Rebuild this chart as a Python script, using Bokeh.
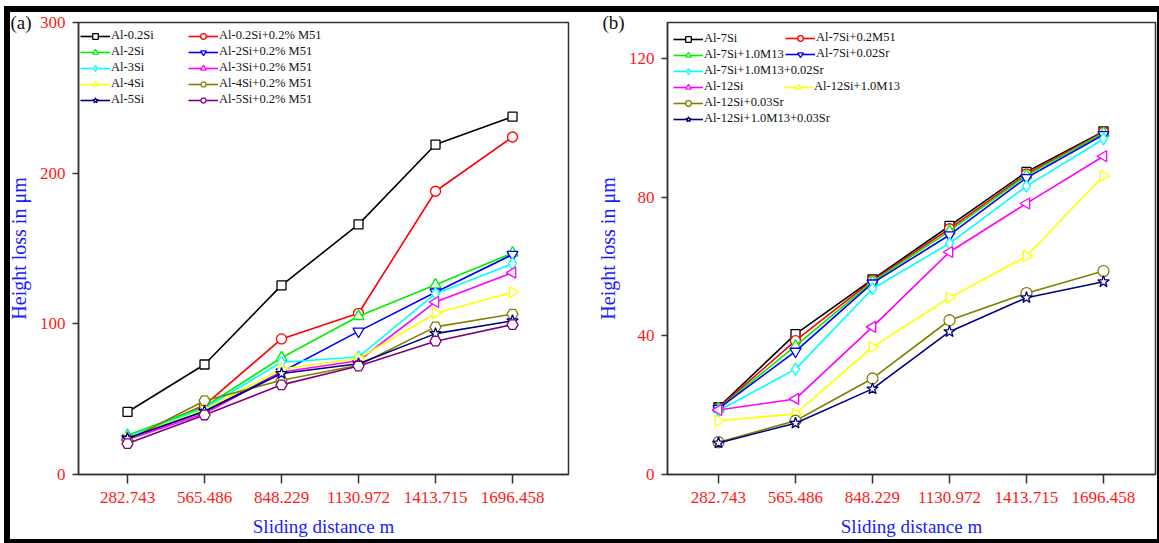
import math
from bokeh.plotting import figure
from bokeh.models import Legend, LegendItem, FixedTicker, Range1d
from bokeh.layouts import row
from bokeh.embed import file_html
from bokeh.resources import INLINE

# ---------------- data ----------------
distance = [282.743, 565.486, 848.229, 1130.972, 1413.715, 1696.458]
tick_labels = ["282.743", "565.486", "848.229", "1130.972", "1413.715", "1696.458"]

# panel (a)
a_names = ["Al-0.2Si", "Al-0.2Si+0.2% M51", "Al-2Si", "Al-2Si+0.2% M51",
           "Al-3Si", "Al-3Si+0.2% M51", "Al-4Si", "Al-4Si+0.2% M51",
           "Al-5Si", "Al-5Si+0.2% M51"]
a_al02si = [41.5, 73, 125.5, 166, 219, 237.5]
a_al02si_m51 = [24, 46, 90, 107, 188, 224]
a_al2si = [26, 45, 77.5, 105, 126, 147]
a_al2si_m51 = [24, 42, 68, 95, 121, 146]
a_al3si = [25, 44, 74.5, 78, 120, 140]
a_al3si_m51 = [23, 40.5, 68, 75.5, 114.5, 134]
a_al4si = [24, 43, 70, 77, 107, 121]
a_al4si_m51 = [22.7, 49, 62.5, 72.5, 98, 106.5]
a_al5si = [24, 42, 67, 73.5, 93.5, 102]
a_al5si_m51 = [20.5, 39.5, 59.5, 72, 88.5, 99.5]
a_values = [a_al02si, a_al02si_m51, a_al2si, a_al2si_m51, a_al3si, a_al3si_m51,
            a_al4si, a_al4si_m51, a_al5si, a_al5si_m51]

# panel (b)
b_names = ["Al-7Si", "Al-7Si+0.2M51", "Al-7Si+1.0M13", "Al-7Si+0.02Sr",
           "Al-7Si+1.0M13+0.02Sr", "Al-12Si", "Al-12Si+1.0M13",
           "Al-12Si+0.03Sr", "Al-12Si+1.0M13+0.03Sr"]
b_al7si = [19.4, 40.5, 56.3, 71.7, 87.3, 99.0]
b_al7si_m51 = [19.2, 38.6, 56.0, 70.9, 86.7, 98.8]
b_al7si_m13 = [19.0, 37.1, 55.6, 70.2, 86.3, 98.5]
b_al7si_sr = [19.0, 35.5, 55.2, 69.1, 85.6, 98.0]
b_al7si_m13_sr = [18.4, 30.4, 53.6, 66.7, 83.2, 96.8]
b_al12si = [18.6, 21.8, 42.6, 64.2, 78.2, 91.8]
b_al12si_m13 = [15.5, 17.5, 36.8, 51.0, 63.0, 86.2]
b_al12si_sr = [9.3, 15.5, 27.7, 44.5, 52.3, 58.7]
b_al12si_m13_sr = [9.1, 14.8, 24.7, 41.2, 51.0, 55.6]
b_values = [b_al7si, b_al7si_m51, b_al7si_m13, b_al7si_sr, b_al7si_m13_sr,
            b_al12si, b_al12si_m13, b_al12si_sr, b_al12si_m13_sr]

# ---------------- styles ----------------
FONT = "Liberation Serif"
TICK_RED = "#ff1a1a"
TITLE_BLUE = "#1a1aff"
AXIS_COL = "#333333"

a_styles = [
    ("#000000", "square", 0, 9),
    ("#ff0000", "circle", 0, 10),
    ("#00ee00", "triangle", 0, 11),
    ("#0000ff", "inverted_triangle", 0, 11),
    ("#00ffff", "diamond", 0, 12),
    ("#ff00ff", "triangle", math.pi / 2, 11),
    ("#ffff00", "triangle", -math.pi / 2, 11),
    ("#808000", "hex", 0, 11),
    ("#000080", "star", 0, 12),
    ("#800080", "hex", 0, 11),
]
b_styles = [
    ("#000000", "square", 0, 9),
    ("#ff0000", "circle", 0, 10),
    ("#00ee00", "triangle", 0, 11),
    ("#0000ff", "inverted_triangle", 0, 11),
    ("#00ffff", "diamond", 0, 12),
    ("#ff00ff", "triangle", math.pi / 2, 11),
    ("#ffff00", "triangle", -math.pi / 2, 11),
    ("#808000", "circle", 0, 11),
    ("#000080", "star", 0, 12),
]


def make_fig(width, xr, yr, yticks, min_left, min_right, min_top, min_bottom, tag, tag_offset):
    p = figure(width=width, height=543, x_range=xr, y_range=yr,
               output_backend="svg", toolbar_location=None,
               min_border_left=min_left, min_border_right=min_right,
               min_border_top=min_top, min_border_bottom=min_bottom)
    p.grid.visible = False
    p.outline_line_color = AXIS_COL
    p.outline_line_width = 1.5
    p.background_fill_color = "white"
    p.border_fill_alpha = 0

    p.title.text = tag
    p.title.align = "left"
    p.title.offset = tag_offset
    p.title.standoff = -20
    p.title.text_font = FONT
    p.title.text_font_size = "19px"
    p.title.text_font_style = "normal"
    p.title.text_color = "#111111"

    p.xaxis.ticker = FixedTicker(ticks=distance)
    p.xaxis.major_label_overrides = {d: t for d, t in zip(distance, tick_labels)}
    p.yaxis.ticker = FixedTicker(ticks=yticks)
    for ax in (p.xaxis[0], p.yaxis[0]):
        ax.axis_line_color = AXIS_COL
        ax.axis_line_width = 1.5
        ax.major_tick_line_color = AXIS_COL
        ax.major_tick_line_width = 1.5
        ax.major_tick_in = 0
        ax.minor_tick_line_color = None
        ax.major_label_text_font = FONT
        ax.major_label_text_font_size = "17px"
        ax.major_label_text_color = TICK_RED
        ax.major_label_text_font_style = "normal"
        ax.axis_label_text_font = FONT
        ax.axis_label_text_font_style = "normal"
        ax.axis_label_text_color = TITLE_BLUE
    p.xaxis.major_tick_out = 9
    p.xaxis.major_label_standoff = 8
    p.xaxis.axis_label = "Sliding distance m"
    p.xaxis.axis_label_text_font_size = "19px"
    p.xaxis.axis_label_standoff = 10
    p.yaxis.major_tick_out = 6
    p.yaxis.major_label_standoff = 7
    p.yaxis.axis_label = "Height loss in \u03bcm"
    p.yaxis.axis_label_text_font_size = "20px"
    p.yaxis.axis_label_standoff = 7
    return p


def draw_series(p, values, styles):
    items = []
    for vals, (col, mk, ang, sz) in zip(values, styles):
        r1 = p.line(distance, vals, line_color=col, line_width=1.6)
        r2 = p.scatter(distance, vals, marker=mk, angle=ang, size=sz,
                       line_color=col, line_width=1.3, fill_color="white")
        items.append([r1, r2])
    return items


def make_legend(items, labels, x, y):
    leg = Legend(items=[LegendItem(label=l, renderers=r) for l, r in zip(labels, items)],
                 location=(x, y), orientation="vertical")
    leg.border_line_alpha = 0
    leg.background_fill_alpha = 0
    leg.padding = 0
    leg.margin = 0
    leg.spacing = 1
    leg.glyph_width = 30
    leg.glyph_height = 14
    leg.label_height = 14
    leg.label_standoff = 1
    leg.label_text_font = FONT
    leg.label_text_font_size = "12.5px"
    leg.label_text_color = "#111111"
    return leg


# ---------------- panel (a) ----------------
pa = make_fig(590, Range1d(102.8, 1902.0), Range1d(0, 300), [0, 100, 200, 300],
              78, 22, 22, 67, "(a)", -68)
ra = draw_series(pa, a_values, a_styles)
pa.add_layout(make_legend(ra[0::2], a_names[0::2], 2, 367))
pa.add_layout(make_legend(ra[1::2], a_names[1::2], 110, 367))

# ---------------- panel (b) ----------------
pb = make_fig(569, Range1d(95.5, 1887.4), Range1d(0, 130.4), [0, 40, 80, 120],
              77, 4, 21, 69, "(b)", -65)
rb = draw_series(pb, b_values, b_styles)
col1 = [0, 2, 4, 5, 7, 8]
pb.add_layout(make_legend([rb[i] for i in col1], [b_names[i] for i in col1], 6, 348))
pb.add_layout(make_legend([rb[1], rb[3]], [b_names[1], b_names[3]], 118, 413))
pb.add_layout(make_legend([rb[6]], [b_names[6]], 116, 380))

frame_bg = ("linear-gradient(#000,#000) 4px 6px / 6px 537px no-repeat, "
            "linear-gradient(#000,#000) 4px 6px / 1155px 6px no-repeat, "
            "linear-gradient(#000,#000) 4px 539px / 1155px 4px no-repeat, "
            "linear-gradient(#000,#000) 1157px 6px / 2px 537px no-repeat, "
            "#ffffff")
layout = row(pa, pb, styles={"background": frame_bg})
open("out.html", "w").write(file_html(layout, INLINE))
